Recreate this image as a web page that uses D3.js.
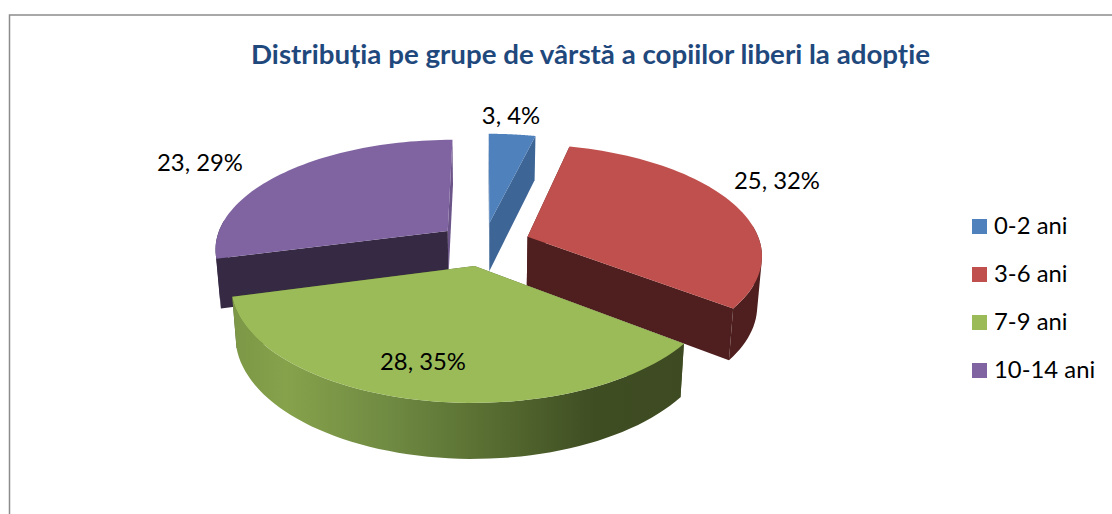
<!DOCTYPE html>
<html><head><meta charset="utf-8">
<script src="https://cdn.jsdelivr.net/npm/d3@7"></script>
<style>html,body{margin:0;padding:0;background:#fff}svg{display:block}</style>
</head><body><svg id="c" width="1112" height="514"></svg>
<script>
const categories = ["0-2 ani","3-6 ani","7-9 ani","10-14 ani"];
const values = [3,25,28,23];
const percents = ["4%","32%","35%","29%"];
const topColors = ["#4f81bd","#c0504d","#9bbb59","#8064a2"];
const wallColors = ["#3d6595","#4e1f1e","url(#greenWall)","#352943"];
const title = "Distribuția pe grupe de vârstă a copiilor liberi la adopție";
const labelPos = [[511,116],[777,181],[423,362],[200,163]];
const legendY = [226,274,322,370];

const svg = d3.select("#c");
const FONT = "Lato, 'Open Sans', sans-serif";

// chart frame
svg.append("path").attr("d","M9.5 514V15H1112").attr("fill","none").attr("stroke","#8c8c8c").attr("stroke-width",1.5);

// projection of the pie's ground plane
const C=[484,244], R=233, S=108.7, P=0.152, EXPL=0.2, Y_K=1.044, Y_D=49, X_K=0.983;
function project(u,v,low){
  const w=1/(1-P*v); let X=R*u*w, Y=S*v*w;
  if(low){X*=X_K; Y=Y*Y_K+Y_D;}
  return [C[0]+X,C[1]+Y];
}
const arcs = d3.pie().sort(null).value(d=>d)(values);
const line = d3.line();
const STEPS=60;
function pts(d,low,a0,a1){
  const m=(d.startAngle+d.endAngle)/2, ox=EXPL*Math.sin(m), oy=-EXPL*Math.cos(m);
  const at=a=>project(ox+Math.sin(a),oy-Math.cos(a),low);
  return d3.range(0,STEPS+1).map(i=>at(a0+(a1-a0)*i/STEPS));
}
function apex(d,low){
  const m=(d.startAngle+d.endAngle)/2;
  return project(EXPL*Math.sin(m),-EXPL*Math.cos(m),low);
}

const defs=svg.append("defs");
const grad=defs.append("linearGradient").attr("id","greenWall").attr("gradientUnits","userSpaceOnUse")
  .attr("x1",232).attr("x2",685).attr("y1",0).attr("y2",0);
[[0,"#7c9746"],[0.12,"#86a24b"],[0.35,"#6f8a42"],[0.6,"#54692f"],[0.8,"#3f4d23"],[1,"#3e4b22"]]
  .forEach(s=>grad.append("stop").attr("offset",s[0]).attr("stop-color",s[1]));

const order=[3,0,1,2];
const g=svg.append("g");
order.forEach(i=>{
  const d=arcs[i], fill=wallColors[i];
  const solid=fill.startsWith("url")?"#4a5a2a":fill;
  const a=apex(d,false), al=apex(d,true);
  // cut walls: the closing cut first, so the opening cut lies over it
  [d.endAngle,d.startAngle].forEach(ang=>{
    const t=pts(d,false,ang,ang)[0], b=pts(d,true,ang,ang)[0];
    const seam = i===3 && ang===d.endAngle;
    g.append("path").attr("d",line([a,t,b,al])+"Z").attr("fill",seam?"#6b5488":solid);
  });
  // outer wall: only the steps that face the viewer, wound alike so the fold stays filled
  const top=pts(d,false,d.startAngle,d.endAngle), bot=pts(d,true,d.startAngle,d.endAngle);
  const quads=d3.range(STEPS).filter(k=>{
    const ang=d.startAngle+(d.endAngle-d.startAngle)*(k+.5)/STEPS;
    return Math.cos(ang)<0.1;
  }).map(k=>{
    const q=[top[k],top[k+1],bot[k+1],bot[k]];
    if(d3.polygonArea(q)<0) q.reverse();
    return line(q)+"Z";
  }).join("");
  if(quads) g.append("path").attr("d",quads).attr("fill",fill);
  // top face
  g.append("path").attr("d",line([a].concat(top))+"Z").attr("fill",topColors[i]);
});

// stretch a text horizontally to the wider face of the reference
function widen(sel,k){
  sel.each(function(){
    const n=this.getComputedTextLength();
    d3.select(this).attr("textLength",n*k).attr("lengthAdjust","spacingAndGlyphs");
  });
}
// data labels
const lab=svg.append("g").attr("font-family",FONT).attr("font-size",22.5).attr("fill","#000").attr("text-anchor","middle");
values.forEach((v,i)=>lab.append("text").attr("x",labelPos[i][0]).attr("y",labelPos[i][1]).attr("dy","0.35em").text(v+", "+percents[i]).call(widen,1.06));

// legend
const leg=svg.append("g").attr("font-family",FONT).attr("font-size",22.5).attr("fill","#000");
categories.forEach((c,i)=>{
  leg.append("rect").attr("x",972).attr("y",legendY[i]-7).attr("width",15).attr("height",15).attr("fill",topColors[i]);
  leg.append("text").attr("x",994).attr("y",legendY[i]).attr("dy","0.35em").text(c).call(widen,1.06);
});

// title
svg.append("text").attr("x",590.5).attr("y",55).attr("dy","0.35em").attr("text-anchor","middle")
  .attr("font-family",FONT).attr("font-weight",700).attr("font-size",26).attr("fill","#1f497d").text(title).call(widen,1.065);
</script></body></html>
